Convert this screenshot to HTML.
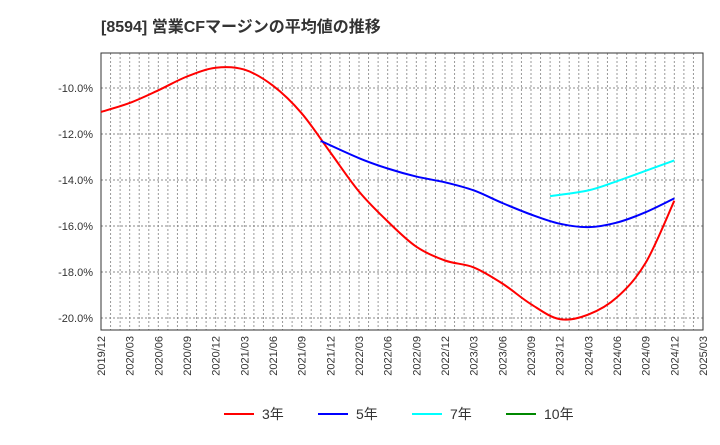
<!DOCTYPE html>
<html><head><meta charset="utf-8"><style>
body{margin:0;background:#fff;width:720px;height:440px;overflow:hidden;font-family:"Liberation Sans","Noto Sans CJK JP",sans-serif}
</style></head><body>
<svg id="c" width="720" height="440" xmlns="http://www.w3.org/2000/svg">
<text x="101" y="32" font-size="16" font-weight="bold" fill="#333">[8594]  営業CFマージンの平均値の推移</text>
</svg>
<script>
const xLabels=["2019/12","2020/03","2020/06","2020/09","2020/12","2021/03","2021/06","2021/09","2021/12","2022/03","2022/06","2022/09","2022/12","2023/03","2023/06","2023/09","2023/12","2024/03","2024/06","2024/09","2024/12","2025/03"];
const yTicks=[-10,-12,-14,-16,-18,-20];
const m3=[0,3,6,9,12,15,18,21,24,27,30,33,36,39,42,45,48,51,54,57,60];
const v3=[-11.04,-10.65,-10.1,-9.5,-9.12,-9.2,-9.9,-11.1,-12.8,-14.5,-15.8,-16.9,-17.5,-17.8,-18.5,-19.4,-20.05,-19.85,-19.1,-17.6,-14.9];
const m5=[23,27,30,33,36,39,42,45,48,51,54,57,60];
const v5=[-12.3,-13.05,-13.5,-13.85,-14.1,-14.45,-15.0,-15.5,-15.9,-16.05,-15.85,-15.4,-14.8];
const m7=[47,51,54,57,60];
const v7=[-14.7,-14.45,-14.05,-13.6,-13.15];
const L=101,R=703,T=53,B=330;
const X=m=>L+(R-L)*m/63;
const Y=v=>88+(-10-v)*23;
const svg=document.getElementById('c');
const NS='http://www.w3.org/2000/svg';
function mk(t,a,p){const e=document.createElementNS(NS,t);for(const k in a)e.setAttribute(k,a[k]);(p||svg).appendChild(e);return e;}
for(let m=1;m<63;m++){
const g=mk('line',{x1:X(m),x2:X(m),y1:T,y2:B,stroke:'#999','stroke-dasharray':'2,2','stroke-width':1});


}
yTicks.forEach(v=>{
const g=mk('line',{x1:L,x2:R,y1:Y(v),y2:Y(v),stroke:'#888','stroke-dasharray':'2,2'});


const t=mk('text',{x:L-8,y:Y(v)+4,'text-anchor':'end','font-size':11,fill:'#333'});
t.textContent=v.toFixed(1)+'%';


});
xLabels.forEach((s,i)=>{
const x=X(i*3);
const t=mk('text',{x:x+4,y:B+6,'text-anchor':'end','font-size':11,fill:'#333',transform:`rotate(-90 ${x+4} ${B+6})`});
t.textContent=s;


});
const fr=mk('rect',{x:L,y:T,width:R-L,height:B-T,fill:'none',stroke:'#333','stroke-width':1});


function path(ms,vs){
const p=ms.map((m,i)=>[X(m),Y(vs[i])]);
let d=`M${p[0][0]},${p[0][1]}`;
for(let i=0;i<p.length-1;i++){
const p0=p[i-1]||p[i],p1=p[i],p2=p[i+1],p3=p[i+2]||p2;
d+=` C${p1[0]+(p2[0]-p0[0])/6},${p1[1]+(p2[1]-p0[1])/6} ${p2[0]-(p3[0]-p1[0])/6},${p2[1]-(p3[1]-p1[1])/6} ${p2[0]},${p2[1]}`;
}
return d;}
[[m3,v3,'#f00','line-3yr'],[m5,v5,'#00f','line-5yr'],[m7,v7,'#0ff','line-7yr']].forEach(s=>{
const e=mk('path',{d:path(s[0],s[1]),fill:'none',stroke:s[2],'stroke-width':2});


});
const leg=[['3年','#f00',224],['5年','#00f',318],['7年','#0ff',412],['10年','#080',506]];
leg.forEach(l=>{
const g=mk('g',{});


mk('line',{x1:l[2],x2:l[2]+30,y1:414,y2:414,stroke:l[1],'stroke-width':2},g);
const t=mk('text',{x:l[2]+38,y:419,'font-size':14,fill:'#333'},g);
t.textContent=l[0];
});
</script>
</body></html>
